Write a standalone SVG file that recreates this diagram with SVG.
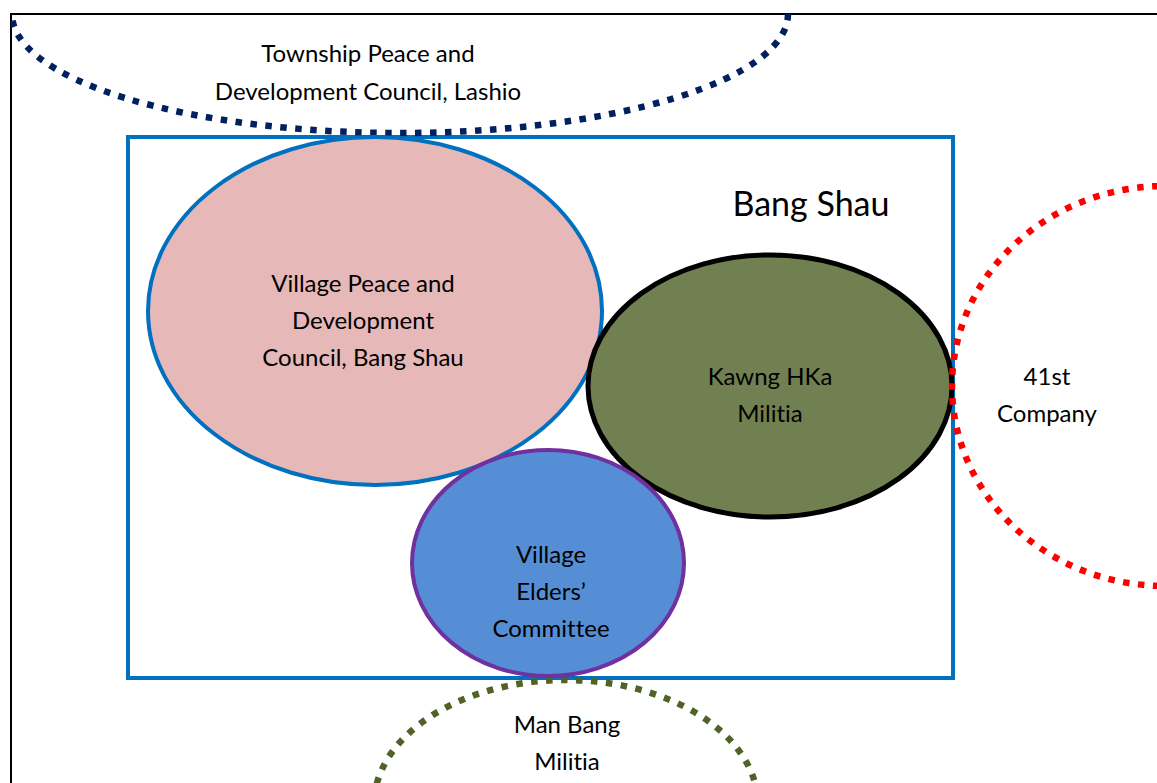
<svg xmlns="http://www.w3.org/2000/svg" width="1157" height="783" viewBox="0 0 1157 783">
<style>
text{font-family:Lato,"Liberation Sans",sans-serif;font-size:24px;fill:#000;text-anchor:middle;font-variant-ligatures:none;font-feature-settings:"liga" 0,"clig" 0}
.dot{fill:none;stroke-width:6.5;stroke-dasharray:6.5 8.5}
</style>
<defs><clipPath id="page"><rect x="11" y="14" width="1146" height="769"/></clipPath></defs>
<rect width="1157" height="783" fill="#fff"/>
<path d="M11,783 V14 H1157" fill="none" stroke="#000" stroke-width="2"/>
<g id="frame"><rect x="128" y="137" width="825" height="541" fill="none" stroke="#0070C0" stroke-width="4"/>
<text x="811" y="216" style="font-size:34px">Bang Shau</text></g>
<g id="township" clip-path="url(#page)"><ellipse class="dot" cx="400" cy="14" rx="388" ry="119" stroke="#002060"/>
<text x="368" y="62">Township Peace and</text><text x="368" y="100">Development Council, Lashio</text></g>
<g id="vpdc"><ellipse cx="375" cy="311" rx="227" ry="174" fill="#E6B8B7" stroke="#0070C0" stroke-width="4"/>
<text x="363" y="292">Village Peace and</text><text x="363" y="329">Development</text><text x="363" y="366">Council, Bang Shau</text></g>
<g id="kawng"><ellipse cx="770" cy="386" rx="182" ry="131" fill="#718050" stroke="#000" stroke-width="5"/>
<text x="770" y="385">Kawng HKa</text><text x="770" y="422">Militia</text></g>
<g id="elders"><ellipse cx="548" cy="563" rx="136" ry="113" fill="#558ED5" stroke="#7030A0" stroke-width="4"/>
<text x="551" y="563">Village</text><text x="551" y="600">Elders’</text><text x="551" y="637">Committee</text></g>
<g id="company" clip-path="url(#page)"><ellipse class="dot" cx="1165" cy="386" rx="213" ry="200" stroke="#FF0000"/>
<text x="1047" y="385">41st</text><text x="1047" y="422">Company</text></g>
<g id="manbang" clip-path="url(#page)"><ellipse class="dot" cx="566" cy="805" rx="192" ry="125" stroke="#4F6228"/>
<text x="567" y="733">Man Bang</text><text x="567" y="770">Militia</text></g>
<g id="connectors"/>
</svg>
